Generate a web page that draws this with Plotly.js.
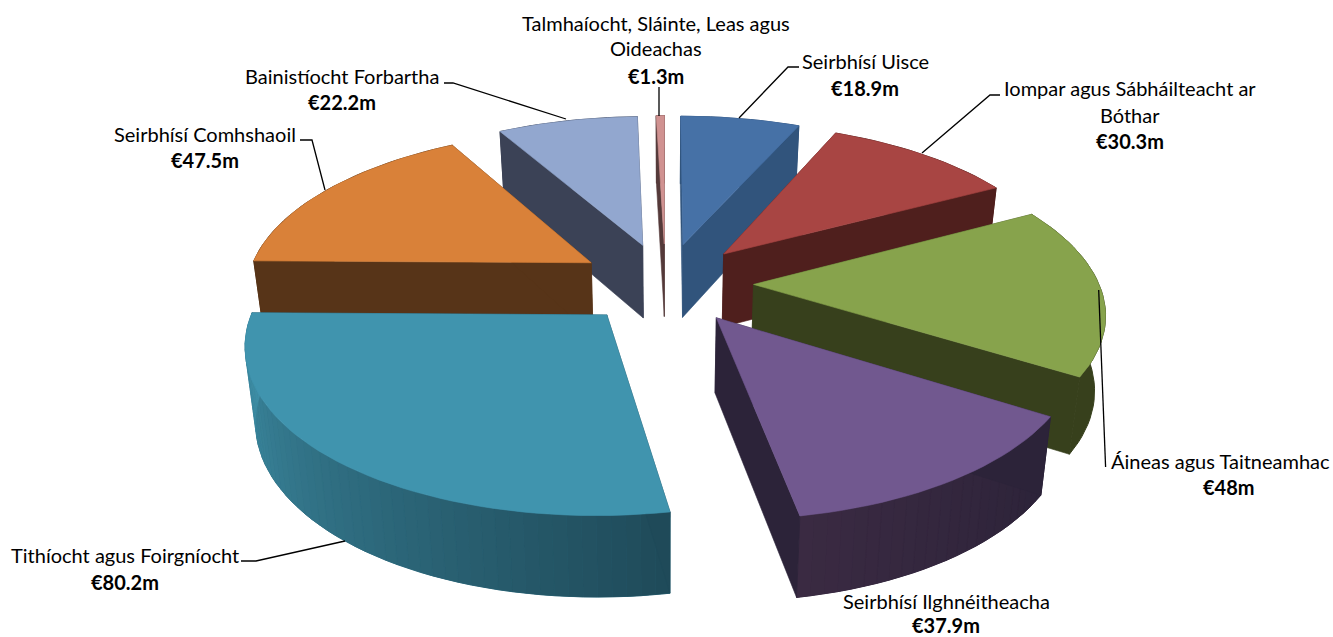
<!DOCTYPE html>
<html>
<head>
<meta charset="utf-8">
<script src="https://cdn.plot.ly/plotly-3.0.1.min.js"></script>
<style>html,body{margin:0;padding:0;background:#fff}#chart{width:1333px;height:637px}</style>
</head>
<body>
<div id="chart"></div>
<script>
// Data, clockwise from twelve o'clock
const values = [18.9, 30.3, 48, 37.9, 80.2, 47.5, 22.2, 1.3];
const categories = ["Seirbhísí Uisce", "Iompar agus Sábháilteacht ar Bóthar", "Áineas agus Taitneamhac",
  "Seirbhísí Ilghnéitheacha", "Tithíocht agus Foirgníocht", "Seirbhísí Comhshaoil",
  "Bainistíocht Forbartha", "Talmhaíocht, Sláinte, Leas agus Oideachas"];
const topColors  = ["#4671A6", "#A84543", "#87A34C", "#71588F", "#4094AE", "#D98139", "#92A7CF", "#D09291"];
const wallColors = ["#31547C", "#4F1F1D", "#37401C", "#2C2339", "#1F4A59", "#573418", "#3B4256", "#553A3A"];
const rimEndColors = ["#31547C", "#4F1F1D", "#37401C", "#3A2A42", "#3F90A8", "#573418", "#3B4256", "#553A3A"];
const drawOrder = [7, 6, 0, 1, 5, 2, 3, 4];

// 3D projection of the pie onto the hidden pixel-scaled axes
const cx = 665.5, cy = 283, radius = 345, explode = 88, tilt = 0.461, dist = 2250, depth = 74, taper = 0.975;
function project(X, Y, low) {
  const s = 1 / (1 + Y / dist);
  const k = low ? taper : 1;
  return [cx + X * s * k, cy - tilt * Y * s + (low ? depth / (1 + Y / (2 * dist)) : 0)];
}
const total = values.reduce((a, b) => a + b, 0);
const rad = d => d * Math.PI / 180;
function hex(c) { return [1, 3, 5].map(i => parseInt(c.substr(i, 2), 16)); }
function mix(a, b, t) {
  const p = hex(a), q = hex(b);
  return "rgb(" + p.map((v, i) => Math.round(v + (q[i] - v) * t)).join(",") + ")";
}
function poly(points, color, width) {
  return {
    type: "scatter", mode: "lines", fill: "toself", fillcolor: color,
    x: points.map(p => p[0]), y: points.map(p => p[1]),
    line: { color: color, width: width === undefined ? 0.6 : width }, hoverinfo: "skip", showlegend: false
  };
}

let cum = 0;
const slices = values.map(v => { const a0 = cum; cum += v / total * 360; return [a0, cum]; });
const traces = [];
drawOrder.forEach(i => {
  const [a0, a1] = slices[i], mid = rad((a0 + a1) / 2);
  const ox = explode * Math.sin(mid), oy = explode * Math.cos(mid);
  const rim = a => [ox + radius * Math.sin(rad(a)), oy + radius * Math.cos(rad(a))];
  const pt = (p, low) => project(p[0], p[1], low);
  const apex = [ox, oy];
  const n = Math.max(1, Math.round((a1 - a0) / 2));
  const arcs = [];
  for (let j = 0; j <= n; j++) arcs.push(a0 + (a1 - a0) * j / n);
  // outer wall: one solid band, then shading bands along the arc where the colour changes
  const band = arcs.map(a => pt(rim(a))).concat(arcs.slice().reverse().map(a => pt(rim(a), true)));
  band.push(band[0]);
  traces.push(poly(band, mix(wallColors[i], rimEndColors[i], 0.5), 1));
  if (wallColors[i] !== rimEndColors[i]) {
    for (let j = 0; j < n; j++) {
      const r1 = rim(arcs[j]), r2 = rim(arcs[j + 1]);
      traces.push(poly([pt(r1), pt(r2), pt(r2, true), pt(r1, true), pt(r1)],
        mix(wallColors[i], rimEndColors[i], (j + 0.5) / n), 0.4));
    }
  }
  // cut faces
  [a0, a1].forEach(a => {
    const r = rim(a);
    traces.push(poly([pt(apex), pt(r), pt(r, true), pt(apex, true), pt(apex)], wallColors[i]));
  });
  // top face
  const face = [pt(apex)];
  arcs.forEach(a => face.push(pt(rim(a))));
  face.push(pt(apex));
  traces.push(poly(face, topColors[i]));
});

const money = i => "<b>€" + values[i] + "m</b>";
const labelFont = { family: "Lato, Carlito, sans-serif", size: 20, color: "#000000" };
function label(x, y, text) {
  return { x, y, text, xref: "x", yref: "y", showarrow: false, xanchor: "center", yanchor: "middle", font: labelFont };
}
const annotations = [
  label(656, 23, "Talmhaíocht, Sláinte, Leas agus"), label(656, 48, "Oideachas"), label(656, 76, money(7)),
  label(865, 61, categories[0]), label(865, 88, money(0)),
  label(1130, 88, "Iompar agus Sábháilteacht ar"), label(1130, 115, "Bóthar"), label(1130, 141, money(1)),
  label(1220, 461, categories[2]), label(1229, 487, money(2)),
  label(946, 601, categories[3]), label(946, 624.5, money(3)),
  label(125, 555, categories[4]), label(125, 582, money(4)),
  label(205, 134, categories[5]), label(205, 160, money(5)),
  label(342, 76, categories[6]), label(342, 102, money(6))
];
const leaderPaths = [
  "M444,83 L453,83 L566,119",
  "M659,87 L659,116",
  "M799,67 L788,67 L739,118",
  "M1000,95 L990,95 L922,153",
  "M1098.7,290 L1105.6,467",
  "M241,561 L256,561 L345,541",
  "M300,140 L312,140 L325,190"
];
const shapes = leaderPaths.map(path => ({
  type: "path", path, xref: "x", yref: "y", layer: "above", line: { color: "#000000", width: 1.3 }
}));

Plotly.newPlot("chart", traces, {
  width: 1333, height: 637,
  margin: { l: 0, r: 0, t: 0, b: 0 },
  paper_bgcolor: "#ffffff", plot_bgcolor: "#ffffff",
  showlegend: false,
  xaxis: { visible: false, range: [0, 1333], fixedrange: true },
  yaxis: { visible: false, range: [637, 0], fixedrange: true },
  annotations, shapes
}, { staticPlot: true, displayModeBar: false });
</script>
</body>
</html>
